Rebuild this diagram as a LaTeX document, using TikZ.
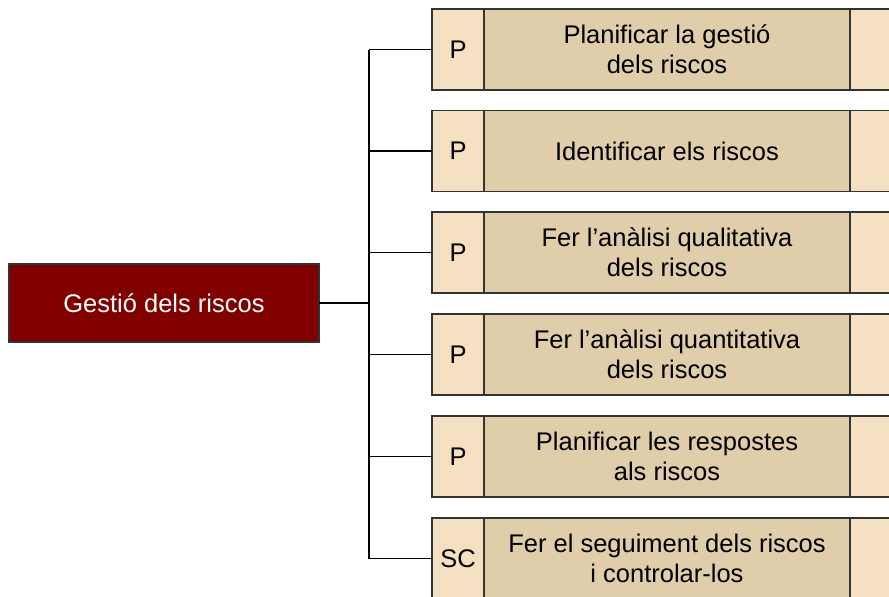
\documentclass[tikz,border=0pt]{standalone}
\usepackage{fontspec}
\setmainfont{Liberation Sans}
\definecolor{mainred}{HTML}{800000}
\definecolor{lightcell}{HTML}{F5E1C1}
\definecolor{midcell}{HTML}{E0CDAA}
\definecolor{edgegray}{HTML}{333333}
\begin{document}
\begin{tikzpicture}[x=1pt,y=-1pt,
  every node/.style={inner sep=0pt, outer sep=0pt, font=\fontsize{25.5}{30}\selectfont},
  mainbox/.style={draw=edgegray, line width=1.5pt, fill=mainred, text=white,
    minimum width=310pt, minimum height=78pt},
  codecell/.style={draw=edgegray, line width=1.5pt, fill=lightcell,
    minimum width=52pt, minimum height=81pt},
  textcell/.style={draw=edgegray, line width=1.5pt, fill=midcell, align=center,
    minimum width=366pt, minimum height=81pt},
  rightcell/.style={draw=edgegray, line width=1.5pt, fill=lightcell,
    minimum width=80pt, minimum height=81pt, anchor=west},
  link/.style={draw=black, line width=1.2pt}]
\useasboundingbox (0,0) rectangle (889,597);
\clip (0,0) rectangle (889,597);
\node[mainbox] (main) at (164,303) {Gestió dels riscos};
\coordinate (hub) at (369,303);
\foreach \i/\y/\c/\t in {
  1/49.5/P/{Planificar la gestió\\dels riscos},
  2/151/P/{Identificar els riscos},
  3/252.5/P/{Fer l’anàlisi qualitativa\\dels riscos},
  4/354.5/P/{Fer l’anàlisi quantitativa\\dels riscos},
  5/456.5/P/{Planificar les respostes\\als riscos},
  6/558.5/SC/{Fer el seguiment dels riscos\\i controlar-los}}{
  \node[codecell] (c\i) at (458,\y) {\c};
  \node[textcell] (t\i) at (667,\y) {\t};
  \node[rightcell] (r\i) at (t\i.east) {};
  \coordinate (s\i) at (369,\y);
  \draw[link] (s\i) -- (c\i.west);
}
\draw[link] (main.east) -- (hub);
\draw[link] (s1) -- (s6);
\end{tikzpicture}
\end{document}
